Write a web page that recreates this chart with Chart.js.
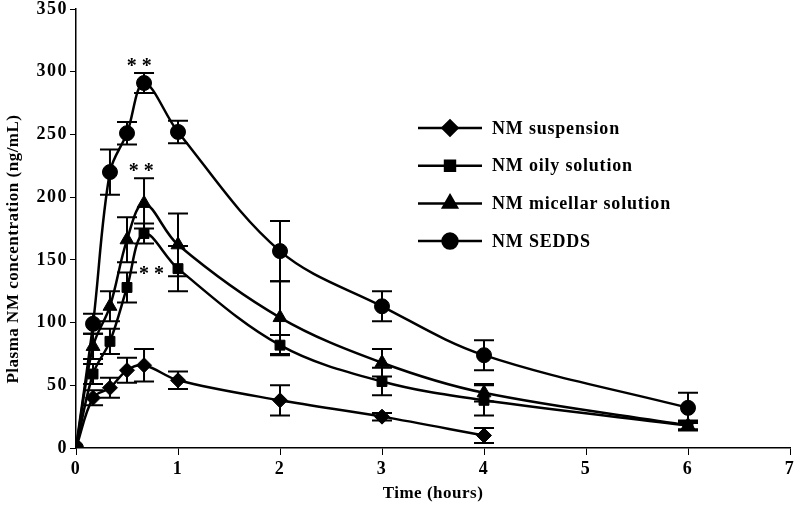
<!DOCTYPE html>
<html lang="en">
<head>
<meta charset="UTF-8">
<title>Plasma NM concentration</title>
<style>
  html, body { margin: 0; padding: 0; background: #fff; }
  .wrap { width: 799px; height: 508px; position: relative; }
</style>
</head>
<body>
<div class="wrap"><canvas id="pkChart"></canvas></div>

<script src="https://cdn.jsdelivr.net/npm/chart.js"></script>
<script>
// sampling times (hours)
const times = [0, 0.167, 0.333, 0.5, 0.667, 1, 2, 3, 4, 6];

// mean plasma concentration (ng/mL) and SD for each formulation
const suspension = [0, 40, 48, 62, 66, 54, 38, 25, 10];
const suspensionSd = [0, 6, 8, 10, 13, 7, 12, 3, 6];

const oily = [0, 59, 85, 128, 171, 143, 82, 53, 38, 18];
const oilySd = [0, 8, 10, 12, 8, 18, 8, 11, 12, 4];

const micellar = [0, 81, 113, 166, 195, 162, 104, 68, 44, 18];
const micellarSd = [0, 10, 12, 18, 20, 25, 29, 11, 7, 3];

const sedds = [0, 99, 220, 251, 291, 252, 157, 113, 74, 32];
const seddsSd = [0, 8, 18, 9, 8, 9, 24, 12, 12, 12];

const seriesNames = ['NM suspension', 'NM oily solution', 'NM micellar solution', 'NM SEDDS'];
const yTicks = [0, 50, 100, 150, 200, 250, 300, 350];
const xTicks = [0, 1, 2, 3, 4, 5, 6, 7];

// significance marks: time, concentration
const starTimes = [0.62, 0.64, 0.74];
const starValues = [307, 223, 141];

const FONT = '"Liberation Serif", "Times New Roman", serif';

function toPoints(vals) {
    return vals.map((v, i) => ({ x: times[i], y: v }));
}

function makeSet(label, vals, sd, style, radius) {
    return {
        label: label,
        data: toPoints(vals),
        sd: sd,
        borderColor: '#000',
        backgroundColor: '#000',
        borderWidth: 2.5,
        pointStyle: style,
        pointRadius: radius,
        pointBorderWidth: 1,
        tension: 0.35,
        fill: false
    };
}

// error bars, stars, legend and axis titles
const extras = {
    id: 'extras',
    beforeLayout(chart) { chart.ctx.letterSpacing = '1.5px'; },
    beforeDraw(chart) { chart.ctx.letterSpacing = '1.5px'; },
    beforeDatasetsDraw(chart) {
        const ctx = chart.ctx;
        const xs = chart.scales.x, ys = chart.scales.y;
        ctx.save();
        ctx.strokeStyle = '#000';
        ctx.lineWidth = 2;
        chart.data.datasets.forEach(ds => {
            ds.data.forEach((p, i) => {
                const sd = ds.sd[i];
                if (!sd) return;
                const px = xs.getPixelForValue(p.x);
                const top = ys.getPixelForValue(p.y + sd);
                const bot = ys.getPixelForValue(Math.max(p.y - sd, 0));
                ctx.beginPath();
                ctx.moveTo(px, top); ctx.lineTo(px, bot);
                ctx.moveTo(px - 10, top); ctx.lineTo(px + 10, top);
                ctx.moveTo(px - 10, bot); ctx.lineTo(px + 10, bot);
                ctx.stroke();
            });
        });
        ctx.restore();
    },
    afterDraw(chart) {
        const ctx = chart.ctx;
        const xs = chart.scales.x, ys = chart.scales.y;
        ctx.save();
        ctx.fillStyle = '#000';

        // stars
        ctx.letterSpacing = '0px';
        ctx.font = 'bold 20px ' + FONT;
        ctx.textAlign = 'center';
        ctx.textBaseline = 'middle';
        starTimes.forEach((t, i) => {
            ctx.fillText('* *', xs.getPixelForValue(t), ys.getPixelForValue(starValues[i]) + 4);
        });

        // legend
        ctx.strokeStyle = '#000';
        ctx.letterSpacing = '0.8px';
        ctx.font = 'bold 18px ' + FONT;
        ctx.textAlign = 'left';
        chart.data.datasets.forEach((ds, i) => {
            const y = 128 + i * 37.7;
            ctx.lineWidth = 2.5;
            ctx.beginPath();
            ctx.moveTo(418, y); ctx.lineTo(482, y);
            ctx.stroke();
            Chart.helpers.drawPoint(ctx, {
                pointStyle: ds.pointStyle, radius: ds.pointRadius, borderWidth: 1, rotation: 0
            }, 450, y);
            ctx.fill();
            ctx.fillText(ds.label, 492, y + 1);
        });

        // axis titles
        ctx.letterSpacing = '0.5px';
        ctx.font = 'bold 17px ' + FONT;
        ctx.textAlign = 'center';
        ctx.fillText('Time (hours)', (chart.chartArea.left + chart.chartArea.right) / 2, 494);
        ctx.translate(14, 249);
        ctx.rotate(-Math.PI / 2);
        ctx.fillText('Plasma NM concentration (ng/mL)', 0, 0);
        ctx.restore();
    }
};

const data = {
    datasets: [
        makeSet(seriesNames[0], suspension, suspensionSd, 'rectRot', 7.5),
        makeSet(seriesNames[1], oily, oilySd, 'rect', 7),
        makeSet(seriesNames[2], micellar, micellarSd, 'triangle', 8),
        makeSet(seriesNames[3], sedds, seddsSd, 'circle', 7.5)
    ]
};

const tickFont = { family: FONT, size: 18, weight: 'bold' };

const config = {
    type: 'line',
    data: data,
    options: {
        responsive: true,
        maintainAspectRatio: false,
        animation: false,
        layout: { padding: { top: 4, right: 7, left: 0, bottom: 0 } },
        scales: {
            x: {
                type: 'linear',
                min: 0,
                max: 7,
                afterBuildTicks(s) { s.ticks = xTicks.map(v => ({ value: v })); },
                afterFit(s) { s.height = 60; s.paddingLeft = 0; s.paddingRight = 0; },
                grid: { drawOnChartArea: false, drawTicks: true, tickLength: 7, color: '#000', lineWidth: 1 },
                border: { color: '#000', width: 1.5 },
                ticks: { color: '#000', padding: 4, maxRotation: 0, font: tickFont }
            },
            y: {
                min: 0,
                max: 350,
                afterBuildTicks(s) { s.ticks = yTicks.map(v => ({ value: v })); },
                afterFit(s) { s.width = 76; s.paddingTop = 0; s.paddingBottom = 0; },
                grid: { drawOnChartArea: false, drawTicks: true, tickLength: 6, color: '#000', lineWidth: 1 },
                border: { color: '#000', width: 1.5 },
                ticks: { color: '#000', padding: 2, font: tickFont }
            }
        },
        plugins: {
            legend: { display: false },
            tooltip: { enabled: false }
        }
    },
    plugins: [extras]
};

const pkChart = new Chart(document.getElementById('pkChart'), config);
</script>
</body>
</html>
